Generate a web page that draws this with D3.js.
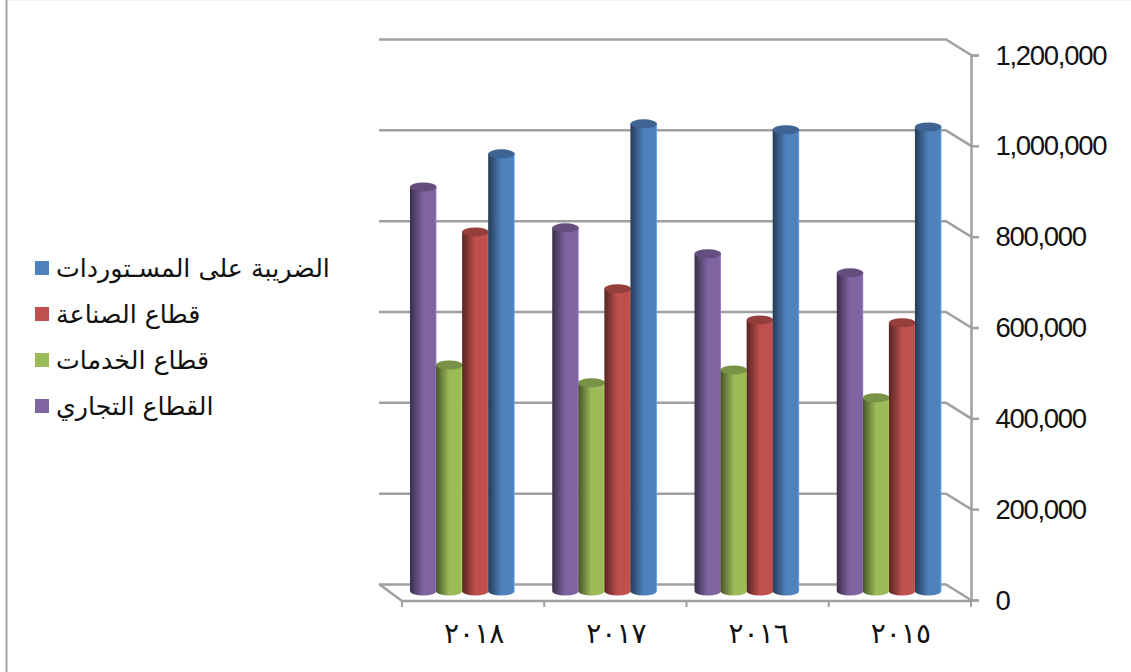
<!DOCTYPE html>
<html>
<head>
<meta charset="utf-8">
<style>
body { margin: 0; background: #fff; overflow: hidden; }
svg { display: block; }
.val { font-family: "Liberation Sans", Arial, sans-serif; font-size: 27.5px; letter-spacing: -1.3px; fill: #111; }
.yr { font-family: "DejaVu Sans", sans-serif; font-size: 28px; fill: #111; }
.leg { font-family: "DejaVu Sans", sans-serif; font-size: 25.3px; fill: #111; }
</style>
</head>
<body>
<script src="https://cdn.jsdelivr.net/npm/d3@7"></script>
<script>
var years = ["٢٠١٨", "٢٠١٧", "٢٠١٦", "٢٠١٥"];
var seriesNames = ["القطاع التجاري", "قطاع الخدمات", "قطاع الصناعة", "الضريبة على المسـتوردات"];
var seriesColors = ["#8064a2", "#9bbb59", "#c0504d", "#4f81bd"];
var trade = [894000, 804000, 747000, 705000];
var services = [502000, 463000, 491000, 430000];
var industry = [795000, 670000, 601000, 595000];
var imports = [967000, 1033000, 1020000, 1026000];
var allValues = [trade, services, industry, imports];
var yTicks = [0, 200000, 400000, 600000, 800000, 1000000, 1200000];

var w = 1131, h = 672,
  left = 402, right = 971, top0 = 55, bottom = 600,
  depthX = 25, depthY = 16;

var svg = d3.select("body").append("svg").attr("width", w).attr("height", h);

var x = d3.scaleBand().domain(years).range([left, right]);
var xInner = d3.scaleBand().domain(seriesNames)
  .range([8, x.bandwidth() - 30]);
var y = d3.scaleLinear().domain([0, 1200000]).range([bottom, top0]);

// chart frame
svg.append("line").attr("x1", 6).attr("x2", 1131).attr("y1", 0.5).attr("y2", 0.5).attr("stroke", "#f0f0f0");
svg.append("line").attr("x1", 6.5).attr("x2", 6.5).attr("y1", 0).attr("y2", h).attr("stroke", "#a6a6a6").attr("stroke-width", 2);

// gradients for the cylinders
var defs = svg.append("defs");
seriesColors.forEach(function(c, i) {
  var g = defs.append("linearGradient").attr("id", "cyl" + i);
  var base = d3.rgb(c);
  g.append("stop").attr("offset", "0%").attr("stop-color", base.darker(2.2));
  g.append("stop").attr("offset", "50%").attr("stop-color", base);
  g.append("stop").attr("offset", "94%").attr("stop-color", base);
  g.append("stop").attr("offset", "100%").attr("stop-color", base.brighter(0.8));
});

// back wall gridlines with the side wall diagonal
var grid = svg.append("g").attr("fill", "none").attr("stroke", "#a0a0a0").attr("stroke-width", 2.5);
grid.selectAll("path").data(yTicks).enter().append("path")
  .attr("d", function(d) {
    return "M" + (left - depthX + 2) + "," + (y(d) - depthY + 0.5) +
      "H" + (right - depthX) + "L" + right + "," + y(d);
  });

// floor
grid.append("path").attr("d", "M" + (left - depthX + 2) + "," + (y(0) - depthY) + "L" + left + "," + (y(0) + 1) + "H" + right);

// y axis
var yAxis = svg.append("g").attr("transform", "translate(" + right + ",0)")
  .call(d3.axisRight(y).tickValues(yTicks).tickFormat(d3.format(",")).tickSize(8));
yAxis.selectAll("path,line").attr("stroke", "#a0a0a0").attr("stroke-width", 2.5);
yAxis.selectAll("text").attr("class", "val").attr("x", 24.5).attr("dy", "0.33em");

// category ticks
svg.append("g").selectAll("line").data(years.concat(["end"])).enter().append("line")
  .attr("x1", function(d) { return d === "end" ? right : x(d); })
  .attr("x2", function(d) { return d === "end" ? right : x(d); })
  .attr("y1", y(0)).attr("y2", y(0) + 7)
  .attr("stroke", "#a0a0a0").attr("stroke-width", 2);

// category labels
var xAxis = svg.append("g").attr("transform", "translate(0," + y(0) + ")")
  .call(d3.axisBottom(x).tickSize(0));
xAxis.select("path").remove();
xAxis.selectAll("text").attr("class", "yr").attr("y", 43).attr("dy", 0).attr("dx", 1);

// cylinders, left to right in each group
var bw = 26.5, rx = bw / 2, ry = 4.5, baseY = bottom - 8;
seriesNames.forEach(function(name, i) {
  var vals = allValues[i];
  var g = svg.append("g");
  var bars = g.selectAll("g").data(vals).enter().append("g")
    .attr("transform", function(d, j) { return "translate(" + (x(years[j]) + xInner(name)) + ",0)"; });
  bars.append("path")
    .attr("d", function(d) {
      var t = y(d) - 7;
      return "M0," + t + "V" + (baseY - 1) +
        "A" + rx + "," + ry + " 0 0 0 " + bw + "," + (baseY - 1) +
        "V" + t + "Z";
    })
    .attr("fill", "url(#cyl" + i + ")");
  bars.append("ellipse")
    .attr("cx", rx).attr("cy", function(d) { return y(d) - 7; })
    .attr("rx", rx).attr("ry", ry)
    .attr("fill", d3.rgb(seriesColors[i]).darker(0.7));
});

// legend, last series first
var legendY = d3.scalePoint().domain(seriesNames.slice().reverse()).range([268, 406]);
var legend = svg.append("g").selectAll("g").data(seriesNames).enter().append("g")
  .attr("transform", function(d) { return "translate(35," + legendY(d) + ")"; });
legend.append("rect").attr("y", -7).attr("width", 14).attr("height", 14)
  .attr("fill", function(d, i) { return seriesColors[i]; });
legend.append("text").attr("class", "leg").attr("x", 21).attr("y", 9)
  .attr("direction", "ltr")
  .text(function(d) { return d; });
</script>
</body>
</html>
